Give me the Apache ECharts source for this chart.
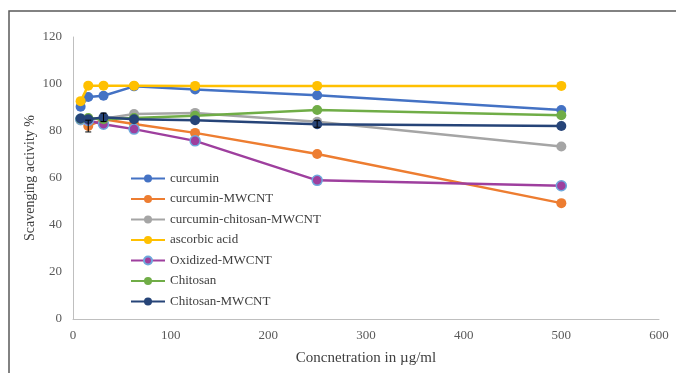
<!DOCTYPE html>
<html><head><meta charset="utf-8">
<script src="https://cdn.jsdelivr.net/npm/echarts@6/dist/echarts.min.js"></script>
<style>html,body{margin:0;padding:0;background:#fff}#c{width:676px;height:373px}</style>
</head><body><div id="c"></div>
<script>
const concentrations = [7.8, 15.6, 31.25, 62.5, 125, 250, 500];
const seriesNames = ['curcumin','curcumin-MWCNT','curcumin-chitosan-MWCNT','ascorbic acid','Oxidized-MWCNT','Chitosan','Chitosan-MWCNT'];
const curcumin = [90.3, 94.5, 95.0, 99.0, 97.7, 95.2, 88.9];
const curcuminMWCNT = [85.0, 82.1, 85.0, 83.0, 79.2, 70.2, 49.3];
const curcuminChitosanMWCNT = [84.5, 85.0, 85.2, 87.2, 87.7, 83.9, 73.4];
const ascorbicAcid = [92.7, 99.3, 99.3, 99.3, 99.2, 99.2, 99.2];
const oxidizedMWCNT = [85.0, 84.5, 82.9, 80.8, 75.8, 59.0, 56.7];
const chitosan = [85.2, 85.5, 85.0, 85.5, 86.5, 88.9, 86.7];
const chitosanMWCNT = [85.3, 85.0, 85.8, 85.0, 84.6, 82.9, 82.1];
// error bars: [x, low, high]
const errorBars = [[15.6, 79.6, 84.6], [31.25, 84.0, 87.6], [250, 81.6, 84.4]];
const xTicks = [0, 100, 200, 300, 400, 500, 600];
const yTicks = [0, 20, 40, 60, 80, 100, 120];

const colors = ['#4472C4','#ED7D31','#A5A5A5','#FFC000','#9E3F9E','#70AD47','#264478'];
const values = [curcumin, curcuminMWCNT, curcuminChitosanMWCNT, ascorbicAcid, oxidizedMWCNT, chitosan, chitosanMWCNT];
const font = '"Liberation Serif","Times New Roman",serif';

const series = seriesNames.map((n, i) => ({
  name: n, type: 'line', z: 3 + i,
  data: concentrations.map((x, j) => [x, values[i][j]]),
  symbol: 'circle', symbolSize: 10,
  lineStyle: { color: colors[i], width: 2.5 },
  itemStyle: { color: colors[i], borderColor: i === 4 ? '#6FA8DC' : colors[i], borderWidth: i === 4 ? 1.5 : 0 }
}));
series.push({
  type: 'custom', z: 20, silent: true,
  data: errorBars,
  renderItem: (params, api) => {
    const x = api.value(0);
    const lo = api.coord([x, api.value(1)]);
    const hi = api.coord([x, api.value(2)]);
    const s = { stroke: '#000', lineWidth: 1 };
    return { type: 'group', children: [
      { type: 'line', shape: { x1: lo[0], y1: lo[1], x2: hi[0], y2: hi[1] }, style: s },
      { type: 'line', shape: { x1: lo[0]-3, y1: lo[1], x2: lo[0]+3, y2: lo[1] }, style: s },
      { type: 'line', shape: { x1: hi[0]-3, y1: hi[1], x2: hi[0]+3, y2: hi[1] }, style: s }
    ]};
  }
});

const chart = echarts.init(document.getElementById('c'));
chart.setOption({
  animation: false,
  color: colors,
  graphic: [{ type: 'rect', shape: { x: 9, y: 11, width: 800, height: 500 }, style: { fill: 'none', stroke: '#5a5a5a', lineWidth: 1.5 }, z: 0 }],
  grid: { left: 73, right: 17, top: 37, bottom: 54 },
  legend: {
    orient: 'vertical', left: 125, top: 167,
    itemWidth: 34, itemHeight: 10, itemGap: 7.5,
    textStyle: { fontFamily: font, fontSize: 13, color: '#404040' },
    data: seriesNames
  },
  xAxis: {
    type: 'value', min: 0, max: 600, interval: 100,
    name: 'Concnetration in µg/ml', nameLocation: 'middle', nameGap: 32, nameMoveOverlap: false,
    nameTextStyle: { fontFamily: font, fontSize: 15, color: '#404040' },
    axisLine: { show: true, lineStyle: { color: '#bfbfbf', width: 1 } },
    axisTick: { show: false }, splitLine: { show: false },
    axisLabel: { fontFamily: font, fontSize: 13, color: '#595959', margin: 10 }
  },
  yAxis: {
    type: 'value', min: 0, max: 120, interval: 20,
    name: 'Scavenging activity %', nameLocation: 'middle', nameGap: 36, nameMoveOverlap: false,
    nameTextStyle: { fontFamily: font, fontSize: 14, color: '#404040' },
    axisLine: { show: true, lineStyle: { color: '#bfbfbf', width: 1 } },
    axisTick: { show: false }, splitLine: { show: false },
    axisLabel: { fontFamily: font, fontSize: 13, color: '#595959', margin: 11 }
  },
  series: series
});
</script></body></html>
